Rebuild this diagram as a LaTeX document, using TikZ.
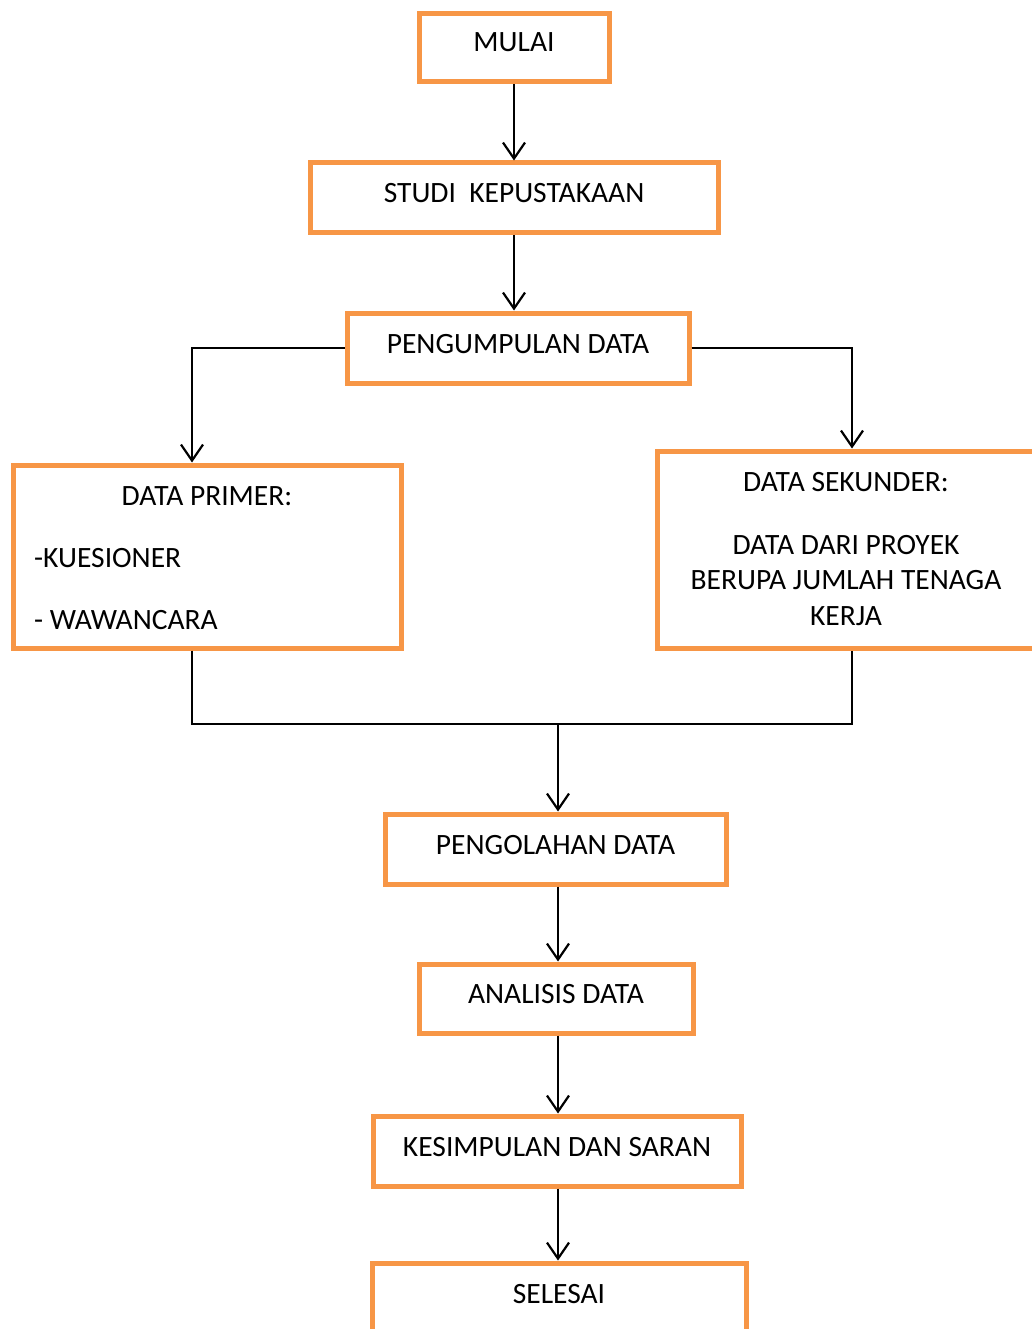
\documentclass[tikz,border=0pt]{standalone}
\usepackage{fontspec}
\setmainfont{Carlito}
\usepackage{tikz}
\usetikzlibrary{arrows.meta}
\definecolor{boxorange}{HTML}{F79646}

\begin{document}
\begin{tikzpicture}[x=1pt, y=-1pt,
    every node/.style={font=\fontsize{29.5}{35.5}\selectfont},
    box/.style={draw=boxorange, line width=5pt, rectangle, fill=white,
      inner ysep=10pt, text height=30pt, text depth=20pt},
    conn/.style={line width=2.2pt},
    tip/.style={-{Straight Barb[length=16pt,width=22pt]}}]
  \useasboundingbox (0,0) rectangle (1031,1329);
  \node[box, minimum width=190pt, text height=28pt] (mulai) at (514,48) {MULAI};
  \node[box, minimum width=408pt] (studi) at (514,198) {STUDI\ \ KEPUSTAKAAN};
  \node[box, minimum width=342pt] (pengumpulan) at (518,348) {PENGUMPULAN DATA};
  \node[box, minimum width=388pt, minimum height=183pt, inner sep=0pt,
    text height=0pt, text depth=0pt] (primer) at (207,556.5) {};
  \node[box, minimum width=378pt, minimum height=197pt, inner sep=0pt,
    text height=0pt, text depth=0pt] (sekunder) at (846,549.5) {};
  \node[anchor=base] (primerjudul) at (207,505) {DATA PRIMER:};
  \node[anchor=base west, inner sep=0pt] (kuesioner) at (34,567) {-KUESIONER};
  \node[anchor=base west, inner sep=0pt] (wawancara) at (34,629) {- WAWANCARA};
  \node[anchor=base] (sekunderjudul) at (846,491) {DATA SEKUNDER:};
  \node[anchor=base, align=center] (sekunderisi) at (846,625)
    {DATA DARI PROYEK\\BERUPA JUMLAH TENAGA\\KERJA};
  \node[box, minimum width=341pt] (pengolahan) at (555.5,849) {PENGOLAHAN DATA};
  \node[box, minimum width=274pt, text height=29pt] (analisis) at (556,998.5) {ANALISIS DATA};
  \node[box, minimum width=368pt] (kesimpulan) at (557,1151) {KESIMPULAN DAN SARAN};
  \node[box, minimum width=374pt] (selesai) at (559,1298) {SELESAI};
  \coordinate (gabung) at (558,724);
  % alur utama
  \draw[conn, tip] (mulai) -- (studi);
  \draw[conn, tip] (studi.south) -- (studi.south |- pengumpulan.north);
  \draw[conn, tip] (pengumpulan.west) -| ([xshift=-15pt]primer.north);
  \draw[conn, tip] (pengumpulan.east) -| ([xshift=6pt]sekunder.north);
  \draw[conn] ([xshift=-15pt]primer.south) |- (gabung) -| ([xshift=6pt]sekunder.south);
  \draw[conn, tip] (gabung) -- (gabung |- pengolahan.north);
  \draw[conn, tip] (gabung |- pengolahan.south) -- (gabung |- analisis.north);
  \draw[conn, tip] (gabung |- analisis.south) -- (gabung |- kesimpulan.north);
  \draw[conn, tip] (gabung |- kesimpulan.south) -- (gabung |- selesai.north);
\end{tikzpicture}
\end{document}
